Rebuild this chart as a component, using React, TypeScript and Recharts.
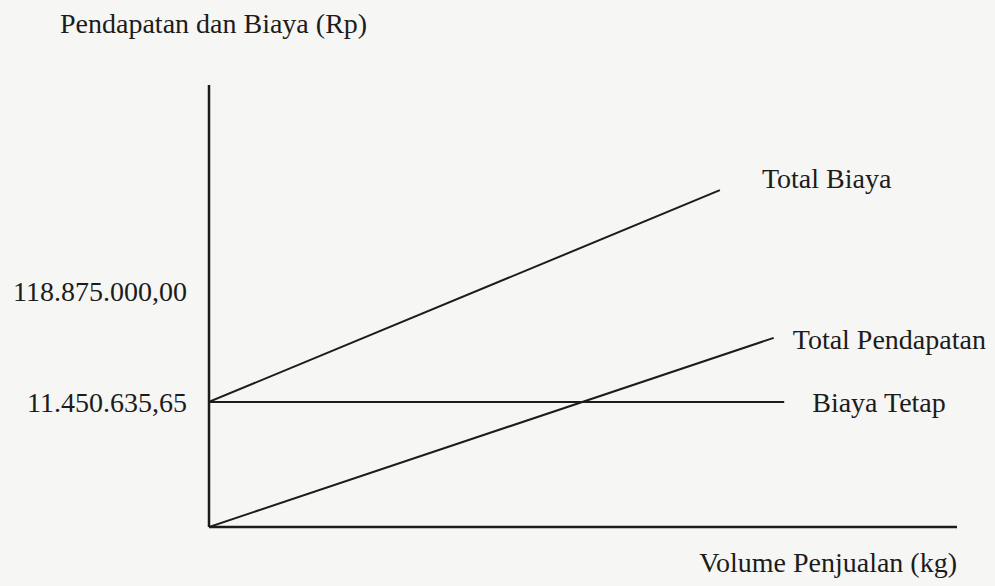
import { LineChart, Line, XAxis, YAxis, Label } from "recharts";

/* ─── Data (schematic units, 0–100 on both axes) ─── */

// Biaya Tetap – horizontal line
const biayaTetapX = [0, 76.9];
const biayaTetapY = [28.3, 28.3];

// Total Biaya – starts at the fixed cost level
const totalBiayaX = [0, 68.3];
const totalBiayaY = [28.3, 76.2];

// Total Pendapatan – starts at the origin
const totalPendapatanX = [0, 75.5];
const totalPendapatanY = [0, 42.8];

// Y axis tick positions and their labels
const yTickValues = [28.3, 53.4];
const yTickLabels = ["11.450.635,65", "118.875.000,00"];

const toPoints = (xs: number[], ys: number[]) =>
  xs.map((x, i) => ({ x, y: ys[i] }));

/* ─── Styling ─── */

const FONT = '"Liberation Serif", "Times New Roman", serif';
const INK = "#1c1c1c";
const FONT_SIZE = 28;

interface SeriesConfig {
  key: string;
  name: string;
  points: { x: number; y: number }[];
  dx: number;
  dy: number;
}

const series: SeriesConfig[] = [
  { key: "tb", name: "Total Biaya", points: toPoints(totalBiayaX, totalBiayaY), dx: 42, dy: -2 },
  { key: "tp", name: "Total Pendapatan", points: toPoints(totalPendapatanX, totalPendapatanY), dx: 19, dy: 11 },
  { key: "bt", name: "Biaya Tetap", points: toPoints(biayaTetapX, biayaTetapY), dx: 28, dy: 10 },
];

/* ─── End-of-line label ─── */

function endLabel(s: SeriesConfig) {
  return (props: any) => {
    const { x, y, index } = props;
    if (index !== s.points.length - 1) return null;
    return (
      <text
        x={x + s.dx}
        y={y + s.dy}
        fill={INK}
        fontSize={FONT_SIZE}
        fontFamily={FONT}
        textAnchor="start"
      >
        {s.name}
      </text>
    );
  };
}

export default function App() {
  return (
    <div
      style={{
        position: "absolute",
        left: 0,
        top: 0,
        width: 995,
        height: 586,
        background: "#f6f6f4",
      }}
    >
      <LineChart
        width={995}
        height={586}
        margin={{ top: 85, right: 38, left: 0, bottom: 0 }}
      >
        <XAxis
          type="number"
          dataKey="x"
          domain={[0, 100]}
          ticks={[]}
          tick={false}
          tickLine={false}
          height={59}
          axisLine={{ stroke: INK, strokeWidth: 2.5 }}
          allowDataOverflow
        >
          <Label
            content={(p: any) => {
              const vb = p.viewBox;
              return (
                <text
                  x={vb.x + vb.width}
                  y={572}
                  textAnchor="end"
                  fill={INK}
                  fontSize={FONT_SIZE}
                  fontFamily={FONT}
                >
                  Volume Penjualan (kg)
                </text>
              );
            }}
          />
        </XAxis>
        <YAxis
          type="number"
          dataKey="y"
          domain={[0, 100]}
          width={209}
          ticks={yTickValues}
          interval={0}
          tickFormatter={(_v: number, i: number) => yTickLabels[i]}
          tickLine={false}
          tickSize={0}
          tickMargin={22}
          tick={{ fill: INK, fontSize: FONT_SIZE, fontFamily: FONT }}
          axisLine={{ stroke: INK, strokeWidth: 2.5 }}
          allowDataOverflow
        >
          <Label
            content={() => (
              <text
                x={60}
                y={33}
                textAnchor="start"
                fill={INK}
                fontSize={FONT_SIZE}
                fontFamily={FONT}
              >
                Pendapatan dan Biaya (Rp)
              </text>
            )}
          />
        </YAxis>

        {series.map((s) => (
          <Line
            key={s.key}
            data={s.points}
            dataKey="y"
            name={s.name}
            type="linear"
            stroke={INK}
            strokeWidth={2}
            dot={false}
            activeDot={false}
            label={endLabel(s)}
            isAnimationActive={false}
          />
        ))}
      </LineChart>
    </div>
  );
}
